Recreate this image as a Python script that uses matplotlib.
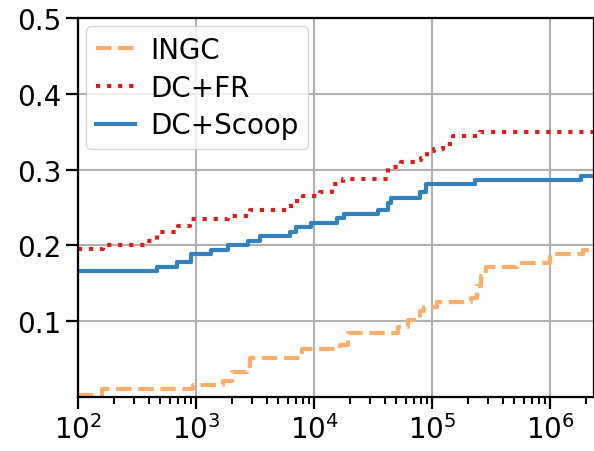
import numpy as np
import matplotlib
matplotlib.use('Agg')
from matplotlib import pyplot as plt

# INGC (orange, dashed)
ingc_x = [100, 159, 940, 1700, 2000, 2700, 2870, 7850, 16700, 19500, 51600, 62800,
          79000, 85000, 110000, 213000, 240000, 260000, 288000, 525000, 1000000, 1900000, 2360000]
ingc_y = [0.002, 0.011, 0.016, 0.021, 0.033, 0.041, 0.051, 0.063, 0.069, 0.084, 0.092, 0.101,
          0.114, 0.119, 0.125, 0.131, 0.147, 0.160, 0.171, 0.177, 0.189, 0.194, 0.194]

# DC+FR (red, dotted)
fr_x = [100, 163, 383, 470, 700, 890, 1860, 2870, 6400, 8100, 11200, 14100, 17500,
        42500, 55000, 72000, 80000, 91000, 105000, 123000, 150000, 256000, 2360000]
fr_y = [0.195, 0.200, 0.206, 0.217, 0.226, 0.235, 0.239, 0.247, 0.259, 0.265, 0.270, 0.281, 0.287,
        0.303, 0.310, 0.312, 0.315, 0.324, 0.327, 0.334, 0.344, 0.350, 0.350]

# DC+Scoop (blue, solid)
scoop_x = [100, 470, 690, 900, 1350, 1860, 2750, 3460, 6300, 7000, 9400, 15800, 17800,
           35000, 42500, 45000, 79000, 89000, 232000, 1820000, 2360000]
scoop_y = [0.166, 0.171, 0.178, 0.189, 0.194, 0.200, 0.206, 0.212, 0.217, 0.224, 0.229, 0.236, 0.241,
           0.247, 0.256, 0.263, 0.270, 0.281, 0.286, 0.291, 0.291]

plt.rcParams['font.size'] = 20

fig = plt.figure(figsize=(5.94, 4.52), dpi=100)
ax = fig.add_axes([0.1313, 0.1195, 0.8687, 0.8385])

ax.step(ingc_x, ingc_y, where='post', color='#fdae6b', linestyle='--', linewidth=3, label='INGC')
ax.step(fr_x, fr_y, where='post', color='#e31a1c', linestyle=':', linewidth=3, label='DC+FR')
ax.step(scoop_x, scoop_y, where='post', color='#3182bd', linestyle='-', linewidth=3, label='DC+Scoop')

ax.set_xscale('log')
ax.set_xlim(100, 2.36e6)
ax.set_ylim(0, 0.5)
ax.set_yticks([0.1, 0.2, 0.3, 0.4, 0.5])
ax.set_xticks([1e2, 1e3, 1e4, 1e5, 1e6])
ax.grid(True, which='major', color='#b0b0b0', linewidth=1.5)
ax.set_axisbelow(True)

for s in ax.spines.values():
    s.set_linewidth(1.6)
ax.tick_params(which='major', length=8.5, width=1.6, labelsize=20)
ax.tick_params(which='minor', length=5, width=1.4)

ax.legend(loc='upper left', fontsize=20, handlelength=1.4, handletextpad=0.55,
          borderpad=0.35, labelspacing=0.35, borderaxespad=0.3)

fig.savefig('out.png', dpi=100)
